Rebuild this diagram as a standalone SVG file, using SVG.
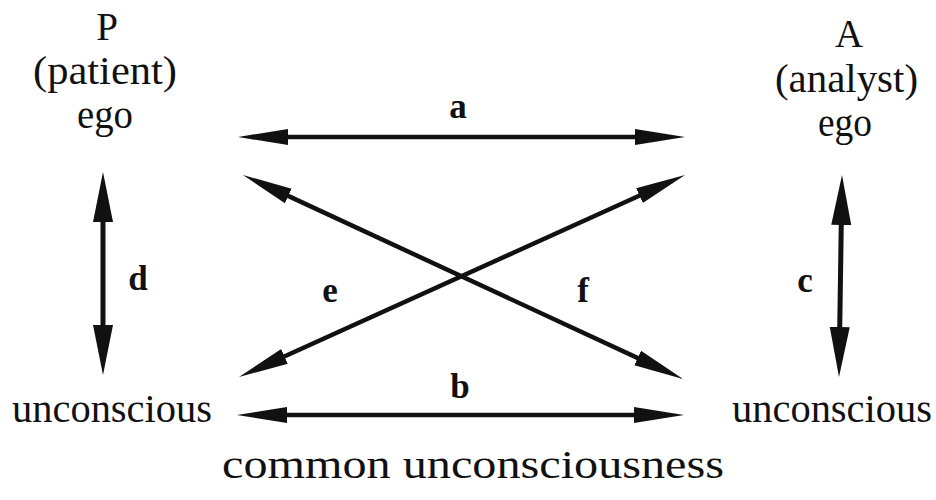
<svg xmlns="http://www.w3.org/2000/svg" width="936" height="500" viewBox="0 0 936 500">
<style>
.t{font-family:"Liberation Serif","Times New Roman",serif;font-size:39px;fill:#111}
.l{font-family:"Liberation Serif","Times New Roman",serif;font-size:35px;font-weight:bold;fill:#111}
.c{stroke:#111;stroke-width:4.5;fill:none}
.v{stroke:#111;stroke-width:5;fill:none}
</style>
<defs>
<marker id="ah" markerUnits="userSpaceOnUse" markerWidth="60" markerHeight="20" viewBox="0 -10 60 20" refX="30" refY="0" orient="auto-start-reverse">
<path d="M0,-8 L50,0 L0,8 Z" fill="#111"/>
</marker>
<marker id="av" markerUnits="userSpaceOnUse" markerWidth="60" markerHeight="24" viewBox="0 -12 60 24" refX="30" refY="0" orient="auto-start-reverse">
<path d="M0,-10 L50,0 L0,10 Z" fill="#111"/>
</marker>
</defs>
<rect width="936" height="500" fill="#fff"/>
<g id="patient-ego">
<text class="t" x="107" y="40" text-anchor="middle">P</text>
<text class="t" x="33" y="84" textLength="144" lengthAdjust="spacingAndGlyphs">(patient)</text>
<text class="t" x="77" y="128" textLength="56" lengthAdjust="spacingAndGlyphs">ego</text>
</g>
<g id="analyst-ego">
<text class="t" x="849" y="47" text-anchor="middle">A</text>
<text class="t" x="775" y="92" textLength="143" lengthAdjust="spacingAndGlyphs">(analyst)</text>
<text class="t" x="818" y="136" textLength="54" lengthAdjust="spacingAndGlyphs">ego</text>
</g>
<g id="patient-unconscious">
<text class="t" x="12" y="422" textLength="200" lengthAdjust="spacingAndGlyphs">unconscious</text>
</g>
<g id="analyst-unconscious">
<text class="t" x="732" y="422" textLength="200" lengthAdjust="spacingAndGlyphs">unconscious</text>
</g>
<g id="common">
<text class="t" x="222" y="478" textLength="502" lengthAdjust="spacingAndGlyphs">common unconsciousness</text>
</g>
<g id="connectors">
<line class="c" x1="258" y1="137" x2="665" y2="137" marker-start="url(#ah)" marker-end="url(#ah)"/>
<line class="c" x1="257" y1="415" x2="664" y2="415" marker-start="url(#ah)" marker-end="url(#ah)"/>
<line class="c" x1="257.2" y1="368.75" x2="666.8" y2="183.25" marker-start="url(#ah)" marker-end="url(#ah)"/>
<line class="c" x1="261.1" y1="183.4" x2="664.9" y2="370.6" marker-start="url(#ah)" marker-end="url(#ah)"/>
<line class="v" x1="103" y1="192" x2="103" y2="355" marker-start="url(#av)" marker-end="url(#av)"/>
<line class="v" x1="841.7" y1="195" x2="839.3" y2="357" marker-start="url(#av)" marker-end="url(#av)"/>
</g>
<g id="labels">
<text class="l" x="458" y="118" text-anchor="middle">a</text>
<text class="l" x="460" y="398" text-anchor="middle">b</text>
<text class="l" x="138" y="290" text-anchor="middle">d</text>
<text class="l" x="805" y="292" text-anchor="middle">c</text>
<text class="l" x="330" y="302" text-anchor="middle">e</text>
<text class="l" x="583" y="302" text-anchor="middle">f</text>
</g>
</svg>
